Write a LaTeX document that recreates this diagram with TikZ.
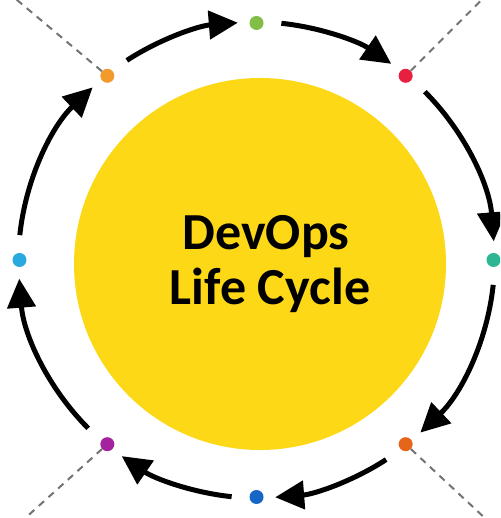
\documentclass[tikz,border=0pt]{standalone}
\usepackage{fontspec}
\setmainfont{Carlito}
\usetikzlibrary{calc}
\usetikzlibrary{arrows.meta}

\definecolor{sun}{HTML}{FDD817}
\definecolor{cgreen}{HTML}{82BE45}
\definecolor{cred}{HTML}{E8203F}
\definecolor{cteal}{HTML}{2DB594}
\definecolor{cdorange}{HTML}{E5661B}
\definecolor{cblue}{HTML}{1666C5}
\definecolor{cpurple}{HTML}{A4229F}
\definecolor{ccyan}{HTML}{2AA9DF}
\definecolor{corange}{HTML}{F39A2C}

\begin{document}
\begin{tikzpicture}[x=1pt,y=1pt,
        dot/.style={circle,inner sep=0pt,minimum size=14pt},
        flow/.style={line width=5pt,-{Triangle[length=29pt,width=28pt]}},
        guide/.style={black!55,line width=2pt,dash pattern=on 7pt off 6pt},
        title/.style={anchor=base,font=\fontsize{52}{55}\selectfont\bfseries}]
        \clip (0,0) rectangle (500,518);
        \coordinate (c) at (256.5,258);
        \node[circle,fill=sun,minimum size=372pt,inner sep=0pt] (sun) at (260,254) {};
        \node[title] (t1) at (266,268) {DevOps};
        \node[title] (t2) at (270,213) {Life Cycle};
        % stations on the ring
        \foreach \n/\a/\c in {p1/90/cgreen,p2/51/cred,p3/0/cteal,p4/-51/cdorange,p5/-90/cblue,p6/-129/cpurple,p7/180/ccyan,p8/129/corange}{
            \node[dot,fill=\c] (\n) at ($(c)+(\a:237)$) {};
        };
        \foreach \n/\d in {p8/140,p2/45,p6/222,p4/-43}{
            \draw[guide] (\n.\d) -- ++(\d:180);
        };
        % arrows between stations
        \foreach \a/\b in {129/90,90/51,51/0,0/-51,-51/-90,-90/-129,-129/-180,180/129}{
            \draw[flow] ($(c)+(\a-6:238)$) arc[start angle=\a-6,end angle=\b+4.5,radius=238];
        };
    \end{tikzpicture}
\end{document}
